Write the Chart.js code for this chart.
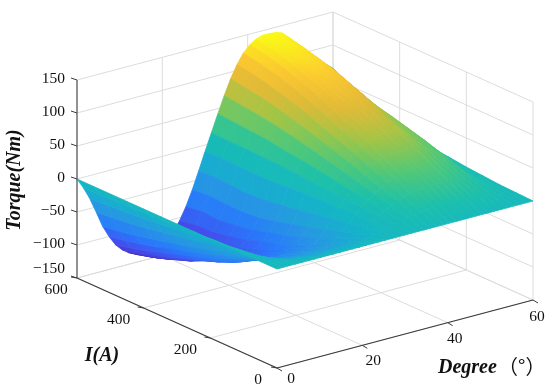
<!DOCTYPE html>
<html>
<head>
<meta charset="utf-8">
<style>
    html, body { margin: 0; padding: 0; background: #fff; }
    #chart { display: block; }
</style>
<script src="https://cdn.jsdelivr.net/npm/chart.js@4"></script>
</head>
<body>
<canvas id="chart" width="550" height="391"></canvas>
<script>
const degrees = [0, 1.5, 3, 4.5, 6, 7.5, 9, 10.5, 12, 13.5, 15, 16.5, 18, 19.5, 21, 22.5, 24, 25.5, 27, 28.5,
    30, 31.5, 33, 34.5, 36, 37.5, 39, 40.5, 42, 43.5, 45, 46.5, 48, 49.5, 51, 52.5, 54, 55.5, 57, 58.5, 60];
const currents = [0, 50, 100, 150, 200, 250, 300, 350, 400, 450, 500, 550, 600];

// Torque (Nm), one list per current
const torque0 = [0, 0, 0, 0, 0, 0, 0, 0, 0, 0, 0, 0, 0, 0, 0, 0, 0, 0, 0, 0, 0, 0, 0, 0, 0, 0, 0, 0, 0, 0, 0, 0, 0, 0, 0, 0, 0, 0, 0, 0, 0];
const torque50 = [0, -2, -4, -6, -8, -10, -12, -13, -13, -14, -14, -14, -14, -14, -13, -12, -11, -9, -6, -4, -1, 2, 4, 7, 9, 11, 12, 13, 14, 14, 14, 14, 14, 13, 12, 11, 9, 7, 4, 3, 1];
const torque100 = [0, -3, -7, -12, -16, -20, -23, -25, -26, -27, -28, -29, -28, -28, -28, -27, -25, -21, -16, -9, -2, 3, 8, 13, 18, 22, 25, 27, 28, 29, 29, 29, 28, 26, 24, 21, 18, 13, 8, 5, 2];
const torque150 = [0, -5, -10, -17, -25, -30, -35, -38, -40, -41, -42, -43, -43, -41, -42, -40, -38, -32, -24, -14, -3, 5, 13, 20, 27, 33, 37, 40, 42, 43, 43, 43, 42, 39, 36, 32, 28, 20, 12, 8, 4];
const torque200 = [0, -6, -14, -23, -32, -39, -45, -49, -51, -53, -55, -56, -55, -55, -55, -53, -50, -43, -32, -18, -4, 7, 17, 27, 36, 44, 50, 54, 56, 57, 57, 57, 56, 52, 47, 43, 38, 28, 17, 11, 6];
const torque250 = [0, -8, -17, -28, -40, -49, -56, -61, -65, -67, -69, -70, -70, -69, -68, -65, -60, -52, -40, -23, -5, 8, 21, 34, 45, 54, 62, 67, 70, 72, 72, 71, 70, 64, 57, 52, 46, 34, 22, 15, 9];
const torque300 = [0, -9, -21, -34, -48, -59, -68, -74, -78, -81, -83, -84, -84, -83, -82, -78, -72, -62, -47, -28, -6, 10, 25, 40, 53, 64, 73, 79, 83, 84, 84, 84, 82, 74, 65, 59, 53, 40, 28, 20, 12];
const torque350 = [0, -11, -23, -39, -55, -67, -77, -84, -88, -92, -94, -96, -95, -94, -93, -88, -79, -68, -54, -32, -8, 12, 29, 46, 61, 74, 84, 91, 95, 97, 97, 96, 95, 86, 76, 68, 60, 46, 33, 25, 17];
const torque400 = [0, -12, -26, -43, -61, -74, -85, -93, -98, -101, -104, -106, -105, -104, -103, -97, -88, -76, -60, -36, -10, 13, 32, 52, 69, 84, 95, 103, 108, 110, 110, 109, 107, 98, 88, 77, 66, 52, 38, 30, 21];
const torque450 = [0, -13, -29, -48, -67, -82, -94, -103, -108, -112, -116, -117, -116, -115, -112, -106, -94, -80, -62, -38, -10, 14, 36, 57, 76, 92, 105, 113, 118, 121, 122, 121, 118, 109, 98, 87, 75, 60, 45, 36, 26];
const torque500 = [0, -14, -31, -52, -73, -89, -102, -111, -117, -122, -125, -127, -126, -124, -120, -112, -99, -84, -62, -37, -10, 15, 38, 61, 82, 99, 113, 122, 127, 130, 130, 129, 126, 117, 106, 95, 84, 73, 62, 51, 40];
const torque550 = [0, -15, -33, -55, -78, -95, -109, -119, -125, -130, -134, -136, -135, -131, -124, -114, -100, -82, -60, -35, -9, 15, 40, 64, 86, 105, 119, 129, 134, 137, 137, 137, 133, 124, 112, 102, 92, 82, 72, 62, 52];
const torque600 = [0, -16, -35, -58, -82, -100, -115, -125, -132, -137, -141, -143, -142, -138, -131, -120, -105, -86, -63, -37, -10, 16, 42, 67, 90, 109, 124, 134, 140, 143, 143, 142, 139, 130, 120, 110, 100, 91, 82, 73, 65];
const torqueRows = [torque0, torque50, torque100, torque150, torque200, torque250, torque300,
    torque350, torque400, torque450, torque500, torque550, torque600];

const zTicks = [-150, -100, -50, 0, 50, 100, 150];
const currentTicks = [0, 200, 400, 600];
const degreeTicks = [0, 20, 40, 60];

const colorPeak = 143;
const colorZero = 0.44;
const parula = [[62, 38, 168], [70, 72, 233], [40, 120, 252], [38, 152, 226], [20, 180, 200], [28, 192, 170],
    [80, 200, 120], [160, 197, 70], [225, 185, 55], [252, 200, 48], [249, 251, 20]];

function colorAt(t) {
    // zero torque sits a bit below the middle of the colour range in the original
    const s = t < 0 ? colorZero * (1 + t / colorPeak) : colorZero + (1 - colorZero) * t / colorPeak;
    const f = Math.min(1, Math.max(0, s)) * (parula.length - 1);
    const i = Math.min(parula.length - 2, Math.floor(f));
    const c = parula[i].map((v, k) => Math.round(v + (parula[i + 1][k] - v) * (f - i)));
    return `rgb(${c[0]},${c[1]},${c[2]})`;
}

// The 3D box flattened to the page, axonometric like the original view
function project(current, degree, torque) {
    const a = current / 600;
    const b = degree / 60;
    return {
        x: 277 - 200 * a + 256 * b,
        y: 368 - 90 * a - 68 * b - 0.66 * (torque + 150)
    };
}

const canvas = document.getElementById('chart');
const ctx = canvas.getContext('2d');
const layers = [];

function addLine(points, color, width) {
    layers.push({
        data: points,
        showLine: true,
        fill: false,
        borderColor: color,
        borderWidth: width,
        pointRadius: 0,
        tension: 0
    });
}

// Back walls and floor
const gridColor = '#dcdcdc';
zTicks.forEach(z => {
    addLine([project(600, 0, z), project(600, 60, z)], gridColor, 1);
    addLine([project(600, 60, z), project(0, 60, z)], gridColor, 1);
});
degreeTicks.forEach(d => {
    addLine([project(600, d, -150), project(600, d, 150)], gridColor, 1);
    addLine([project(0, d, -150), project(600, d, -150)], gridColor, 1);
});
currentTicks.forEach(c => {
    addLine([project(c, 60, -150), project(c, 60, 150)], gridColor, 1);
    addLine([project(c, 0, -150), project(c, 60, -150)], gridColor, 1);
});

// Surface cells, far corner first so the near ones paint over them
function cellPaint(p00, p01, p10, p11, t0, t1) {
    const p0 = {x: (p00.x + p01.x) / 2, y: (p00.y + p01.y) / 2};
    const p1 = {x: (p10.x + p11.x) / 2, y: (p10.y + p11.y) / 2};
    const ex = (p01.x - p00.x) + (p11.x - p10.x);
    const ey = (p01.y - p00.y) + (p11.y - p10.y);
    const len = Math.hypot(ex, ey) || 1;
    const nx = -ey / len;
    const ny = ex / len;
    const reach = (p1.x - p0.x) * nx + (p1.y - p0.y) * ny;
    if (Math.abs(reach) < 0.01) return colorAt((t0 + t1) / 2);
    const g = ctx.createLinearGradient(p0.x, p0.y, p0.x + nx * reach, p0.y + ny * reach);
    g.addColorStop(0, colorAt(t0));
    g.addColorStop(1, colorAt(t1));
    return g;
}

for (let r = currents.length - 1; r > 0; r--) {
    for (let c = degrees.length - 1; c > 0; c--) {
        const near = torqueRows[r - 1];
        const far = torqueRows[r];
        const p00 = project(currents[r - 1], degrees[c - 1], near[c - 1]);
        const p01 = project(currents[r - 1], degrees[c], near[c]);
        const p10 = project(currents[r], degrees[c - 1], far[c - 1]);
        const p11 = project(currents[r], degrees[c], far[c]);
        const paint = cellPaint(p00, p01, p10, p11, (near[c - 1] + near[c]) / 2, (far[c - 1] + far[c]) / 2);
        layers.push({
            data: [p00, p01, p11, p10, p00],
            showLine: true,
            fill: 'shape',
            backgroundColor: paint,
            borderColor: paint,
            borderWidth: 0.8,
            borderJoinStyle: 'round',
            pointRadius: 0,
            tension: 0
        });
    }
}

// Axis lines and tick stubs
const axisColor = '#3c3c3c';
addLine([project(600, 0, -150), project(600, 0, 150)], '#555555', 1.2);
addLine([project(600, 0, -150), project(0, 0, -150)], axisColor, 1.2);
addLine([project(0, 0, -150), project(0, 60, -150)], axisColor, 1.2);
zTicks.forEach(z => {
    const p = project(600, 0, z);
    addLine([p, {x: p.x - 6, y: p.y - 2}], axisColor, 1);
});
currentTicks.forEach(c => {
    const p = project(c, 0, -150);
    addLine([p, {x: p.x - 6, y: p.y - 1}], axisColor, 1);
});
degreeTicks.forEach(d => {
    const p = project(0, d, -150);
    addLine([p, {x: p.x + 5, y: p.y + 3}], axisColor, 1);
});

const boxText = {
    id: 'boxText',
    afterDraw(chart) {
        const g = chart.ctx;
        g.save();
        g.fillStyle = '#111';
        g.textBaseline = 'middle';

        g.font = '15.5px "Liberation Serif"';
        g.textAlign = 'right';
        zTicks.forEach(z => {
            const p = project(600, 0, z);
            const label = z < 0 ? '\u2212' + (-z) : String(z);
            g.fillText(label, 65, z === -150 ? p.y - 9 : p.y - 1.5);
        });

        g.textAlign = 'center';
        currentTicks.forEach(c => {
            const p = project(c, 0, -150);
            g.fillText(String(c), p.x + (c === 0 ? -19 : c === 600 ? -21 : -25), p.y + 12);
        });
        const degreeOffsets = [[14, 11], [11, 16], [7, 16], [4, 17]];
        degreeTicks.forEach((d, i) => {
            const p = project(0, d, -150);
            g.fillText(String(d), p.x + degreeOffsets[i][0], p.y + degreeOffsets[i][1]);
        });

        g.font = 'italic bold 20px "Liberation Serif"';
        g.fillText('I(A)', 102, 356);
        g.textAlign = 'left';
        g.fillText('Degree', 438, 368);
        g.font = '20px "Noto Sans CJK SC"';
        g.fillText('\uFF08\u00B0\uFF09', 498, 366);

        g.font = 'italic bold 20px "Liberation Serif"';
        g.textAlign = 'center';
        g.translate(15, 180);
        g.rotate(-Math.PI / 2);
        g.fillText('Torque(Nm)', 0, 0);
        g.restore();
    }
};

new Chart(ctx, {
    type: 'scatter',
    data: {datasets: layers.slice().reverse()},
    options: {
        responsive: false,
        animation: false,
        layout: {padding: 0},
        scales: {
            x: {type: 'linear', min: 0, max: 550, display: false},
            y: {type: 'linear', min: 0, max: 391, reverse: true, display: false}
        },
        plugins: {
            legend: {display: false},
            tooltip: {enabled: false}
        }
    },
    plugins: [boxText]
});
</script>
</body>
</html>
